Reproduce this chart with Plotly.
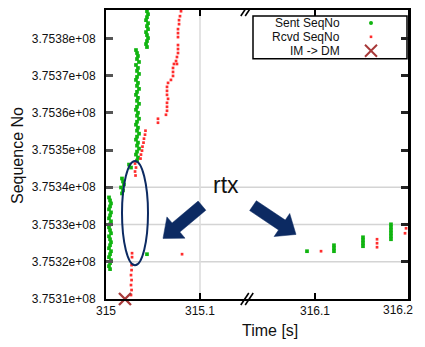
import plotly.graph_objects as go

# ---------------- data ----------------
sent_left_t = [
    # column near start
    315.0032, 315.0043, 315.0053, 315.0043, 315.0032, 315.0053, 315.0043, 315.0032, 315.0053,
    315.0043, 315.0032, 315.0043, 315.0053, 315.0032, 315.0043, 315.0053, 315.0043, 315.0032,
    315.0053, 315.0043, 315.0032, 315.0053, 315.0043, 315.0032, 315.0043,
    # cluster
    315.0170, 315.0181, 315.0191, 315.0160, 315.0181, 315.0170,
    315.0245, 315.0266,
    # main column
    315.0319, 315.0330, 315.0340, 315.0330, 315.0351, 315.0319, 315.0340, 315.0330, 315.0351,
    315.0330, 315.0319, 315.0340, 315.0330, 315.0351, 315.0330, 315.0319, 315.0340, 315.0330,
    315.0351, 315.0330, 315.0319, 315.0340, 315.0330, 315.0351, 315.0330, 315.0319, 315.0340,
    315.0330, 315.0351, 315.0330, 315.0319, 315.0340, 315.0330, 315.0351, 315.0330, 315.0319,
    315.0340, 315.0330,
    # top column
    315.0436, 315.0447, 315.0436, 315.0426, 315.0447, 315.0436, 315.0447, 315.0426, 315.0436,
    315.0447, 315.0436, 315.0426, 315.0436,
    # isolated
    315.0436,
]
sent_left_seq = [
    375337275, 375336473, 375335670, 375334868, 375334066, 375333264, 375332462, 375331659, 375330857,
    375330055, 375329253, 375328451, 375327648, 375326846, 375326044, 375325242, 375324440, 375323637,
    375322835, 375322033, 375321231, 375320429, 375319626, 375318824, 375318022,
    375342355, 375341553, 375340751, 375339949, 375339147, 375338344,
    375346099, 375345297,
    375376850, 375376048, 375375246, 375374443, 375373641, 375372839, 375372037, 375371235, 375370432,
    375369630, 375368828, 375368026, 375367224, 375366421, 375365619, 375364817, 375364015, 375363213,
    375362410, 375361608, 375360806, 375360004, 375359202, 375358399, 375357597, 375356795, 375355993,
    375355191, 375354388, 375353586, 375352784, 375351982, 375351180, 375350377, 375349575, 375348773,
    375347971, 375347169,
    375387279, 375386476, 375385674, 375384872, 375384070, 375383268, 375382465, 375381663, 375380861,
    375380059, 375379257, 375378454, 375377652,
    375322033,
]
sent_right_t = [316.0914,
                316.1204, 316.1204, 316.1204,
                316.1516, 316.1516, 316.1516, 316.1516,
                316.1817, 316.1817, 316.1817, 316.1817, 316.1817, 316.1817]
sent_right_seq = [375322835,
                  375324440, 375323637, 375322835,
                  375326579, 375325777, 375324974, 375324172,
                  375330055, 375329253, 375328451, 375327648, 375326846, 375326044]

rcvd_left_t = [
    315.0277, 315.0277, 315.0272, 315.0272, 315.0266, 315.0272, 315.0266, 315.0272, 315.0266,
    315.0309, 315.0319, 315.0309, 315.0314,
    315.0420, 315.0415, 315.0404, 315.0399, 315.0388, 315.0383, 315.0372, 315.0367,
    315.0553, 315.0553,
    315.0660, 315.0649, 315.0649, 315.0649, 315.0660, 315.0649, 315.0649, 315.0649, 315.0638,
    315.0798, 315.0787, 315.0777, 315.0777, 315.0766, 315.0766, 315.0766, 315.0766, 315.0766,
    315.0766, 315.0755, 315.0745, 315.0723, 315.0755, 315.0713, 315.0713, 315.0713, 315.0691,
    315.0809,
]
rcvd_left_seq = [
    375322300, 375321231, 375319092, 375317755, 375316418, 375315081, 375313744, 375312407, 375311070,
    375346366, 375345297, 375344227, 375343158,
    375355191, 375354121, 375353051, 375351982, 375350912, 375349843, 375348773, 375347703,
    375358399, 375357330,
    375368026, 375366956, 375365887, 375364817, 375363747, 375362678, 375361608, 375360539, 375359469,
    375387279, 375385942, 375384872, 375383802, 375382465, 375381396, 375380326, 375378187, 375377117,
    375376048, 375374978, 375373909, 375373106, 375373106, 375372037, 375370967, 375369898, 375368828,
    375322033,
]
rcvd_right_t = [316.1065,
                316.1667, 316.1667, 316.1667,
                316.1968, 316.1979, 316.1968]
rcvd_right_seq = [375322835,
                  375326044, 375324974, 375323905,
                  375330055, 375328985, 375327648]

im_dm_t = [315.0202]
im_dm_seq = [375310000]

y_tick_vals = [375310000, 375320000, 375330000, 375340000, 375350000, 375360000, 375370000, 375380000]
y_tick_text = ["3.7531e+08", "3.7532e+08", "3.7533e+08", "3.7534e+08",
               "3.7535e+08", "3.7536e+08", "3.7537e+08", "3.7538e+08"]
x_left_ticks = [315, 315.1]
x_left_text = ["315", "315.1"]
x_right_ticks = [316.1, 316.2]
x_right_text = ["316.1", ""]      # last label drawn right-aligned so it stays on the page
x_last_label = "316.2"
grid_seq = [375320000, 375330000, 375340000]
grid_time = [315.1]

legend_labels = ["Sent SeqNo", "Rcvd SeqNo", "IM -> DM"]

# ---------------- styling / geometry helpers ----------------
FONT = "Liberation Sans, Arial, sans-serif"
GREEN = "#10b410"
RED = "#ff2d2d"
XRED = "#a83a3a"
NAVY = "#0c2a62"

# the page body adds an 8px offset; the figure is sized so the page never overflows
OFF = 8
FIG_W, FIG_H = 425 - OFF, 347 - 2 * OFF
# target plot area in window pixels
PL, PR, PT, PB = 106, 408, 8, 299
W, H = PR - PL, PB - PT
BREAK_PX = 247


def pxx(x):
    return (x - PL) / W


def pxy(y):
    return (PB - y) / H


split = pxx(BREAK_PX)

fig = go.Figure()

green_m = dict(symbol="square", size=3.7, color=GREEN, line=dict(width=0))
red_m = dict(symbol="square", size=2.7, color=RED, line=dict(width=0))

fig.add_trace(go.Scatter(x=sent_left_t, y=sent_left_seq, mode="markers", marker=green_m,
                         name="Sent SeqNo", xaxis="x", yaxis="y", showlegend=False))
fig.add_trace(go.Scatter(x=rcvd_left_t, y=rcvd_left_seq, mode="markers", marker=red_m,
                         name="Rcvd SeqNo", xaxis="x", yaxis="y", showlegend=False))
fig.add_trace(go.Scatter(x=sent_right_t, y=sent_right_seq, mode="markers", marker=green_m,
                         name="Sent SeqNo", xaxis="x2", yaxis="y2", showlegend=False))
fig.add_trace(go.Scatter(x=rcvd_right_t, y=rcvd_right_seq, mode="markers", marker=red_m,
                         name="Rcvd SeqNo", xaxis="x2", yaxis="y2", showlegend=False))
fig.add_trace(go.Scatter(x=im_dm_t, y=im_dm_seq, mode="markers", cliponaxis=False,
                         marker=dict(symbol="x-thin", size=12, line=dict(width=2.4, color=XRED)),
                         name="IM -> DM", xaxis="x", yaxis="y", showlegend=False))

# legend symbols on an invisible overlay axis (0..1 over the plot area)
leg_x = pxx(371)
leg_ys = [pxy(21), pxy(35), pxy(49)]
fig.add_trace(go.Scatter(x=[leg_x], y=[leg_ys[0]], mode="markers", xaxis="x3", yaxis="y3",
                         marker=dict(symbol="circle", size=4, color=GREEN), showlegend=False,
                         hoverinfo="skip"))
fig.add_trace(go.Scatter(x=[leg_x], y=[leg_ys[1]], mode="markers", xaxis="x3", yaxis="y3",
                         marker=dict(symbol="square", size=2.6, color=RED), showlegend=False,
                         hoverinfo="skip"))
fig.add_trace(go.Scatter(x=[leg_x], y=[leg_ys[2]], mode="markers", xaxis="x3", yaxis="y3",
                         marker=dict(symbol="x-thin", size=12, line=dict(width=2, color=XRED)),
                         showlegend=False, hoverinfo="skip"))

axis_common = dict(showline=True, linecolor="black", linewidth=2, showgrid=False, zeroline=False,
                   ticks="inside", tickcolor="black", tickwidth=1.5, ticklen=6,
                   tickfont=dict(family=FONT, size=12, color="#111"))

fig.update_layout(
    width=FIG_W, height=FIG_H,
    margin=dict(l=PL - OFF, r=FIG_W - (PR - OFF), t=PT - OFF, b=FIG_H - (PB - OFF), pad=0),
    paper_bgcolor="white", plot_bgcolor="rgba(0,0,0,0)",
    font=dict(family=FONT, size=12, color="#111"),
    showlegend=False,
    xaxis=dict(domain=[0, split], range=[315, 315 + (BREAK_PX - PL) / 940],
               tickvals=x_left_ticks, ticktext=x_left_text, anchor="y", mirror="ticks",
               **axis_common),
    xaxis2=dict(domain=[split, 1], range=[316.1 - (315 - BREAK_PX) / 930, 316.2],
                tickvals=x_right_ticks, ticktext=x_right_text, anchor="y2", mirror="ticks",
                **axis_common),
    yaxis=dict(domain=[0, 1], range=[375310000, 375387600], tickvals=y_tick_vals,
               ticktext=y_tick_text, anchor="x", ticklen=7, tickcolor="#555", tickwidth=2.5,
               showline=True, linecolor="black", linewidth=2, showgrid=False, zeroline=False,
               ticks="inside", ticklabelstandoff=6,
               tickfont=dict(family=FONT, size=12, color="#111")),
    yaxis2=dict(domain=[0, 1], matches="y", anchor="x2", side="right", tickvals=y_tick_vals,
                showticklabels=False, ticks="inside", ticklen=7, tickcolor="#222", tickwidth=2.5,
                showline=True, linecolor="black", linewidth=2.5, showgrid=False, zeroline=False),
    xaxis3=dict(domain=[0, 1], range=[0, 1], visible=False, anchor="y3", fixedrange=True),
    yaxis3=dict(domain=[0, 1], range=[0, 1], visible=False, anchor="x3", fixedrange=True),
)

shapes = []
for g in grid_seq:
    shapes.append(dict(type="line", xref="paper", yref="y", x0=0, x1=1, y0=g, y1=g,
                       line=dict(color="#d4d4d4", width=1.6), layer="below"))
for g in grid_time:
    shapes.append(dict(type="line", xref="x", yref="paper", x0=g, x1=g, y0=0, y1=1,
                       line=dict(color="#dcdcdc", width=1.6), layer="below"))

# legend box
shapes.append(dict(type="rect", xref="paper", yref="paper", x0=pxx(253), x1=pxx(407),
                   y0=pxy(57), y1=pxy(14), line=dict(color="black", width=1.5),
                   fillcolor="white", layer="between"))

# ellipse around retransmissions
shapes.append(dict(type="circle", xref="paper", yref="paper", x0=pxx(122), x1=pxx(148),
                   y0=pxy(265), y1=pxy(160), line=dict(color=NAVY, width=2), layer="above"))


def arrow_path(tail, tip, half_shaft=6.0, half_head=14.0, head_len=17.0):
    tx, ty = tail
    px_, py_ = tip
    dx, dy = px_ - tx, py_ - ty
    ln = (dx * dx + dy * dy) ** 0.5
    ux, uy = dx / ln, dy / ln
    nx, ny = -uy, ux
    hx, hy = px_ - ux * head_len, py_ - uy * head_len
    pts = [(tx + nx * half_shaft, ty + ny * half_shaft),
           (hx + nx * half_shaft, hy + ny * half_shaft),
           (hx + nx * half_head, hy + ny * half_head),
           (px_, py_),
           (hx - nx * half_head, hy - ny * half_head),
           (hx - nx * half_shaft, hy - ny * half_shaft),
           (tx - nx * half_shaft, ty - ny * half_shaft)]
    return "M " + " L ".join(f"{pxx(a):.5f},{pxy(b):.5f}" for a, b in pts) + " Z"


for tail, tip in [((202, 205), (163, 238)), ((253, 205), (296, 234))]:
    shapes.append(dict(type="path", xref="paper", yref="paper", path=arrow_path(tail, tip),
                       fillcolor=NAVY, line=dict(color=NAVY, width=0.5), layer="above"))

# axis break marks
for yb in (PT, PB):
    for off in (-2.2, 2.2):
        shapes.append(dict(type="line", xref="paper", yref="paper",
                           x0=pxx(BREAK_PX + off - 4), y0=pxy(yb + 6),
                           x1=pxx(BREAK_PX + off + 4), y1=pxy(yb - 6),
                           line=dict(color="black", width=1.6), layer="above"))
fig.update_layout(shapes=shapes)

annotations = [
    dict(text="rtx", xref="paper", yref="paper", x=pxx(226), y=pxy(184), showarrow=False,
         font=dict(family=FONT, size=23, color="#111"), xanchor="center", yanchor="middle"),
    dict(text="Sequence No", xref="paper", yref="paper", x=pxx(17.5), y=pxy(154.5),
         showarrow=False, textangle=-90, font=dict(family=FONT, size=16, color="#111"),
         xanchor="center", yanchor="middle"),
    dict(text="Time [s]", xref="paper", yref="paper", x=pxx(270), y=pxy(331), showarrow=False,
         font=dict(family=FONT, size=16, color="#111"), xanchor="center", yanchor="middle"),
    dict(text=x_last_label, xref="paper", yref="paper", x=pxx(415), y=pxy(310),
         showarrow=False, xanchor="right", yanchor="middle",
         font=dict(family=FONT, size=12, color="#111")),
]
for lab, ly in zip(legend_labels, leg_ys):
    annotations.append(dict(text=lab, xref="paper", yref="paper", x=pxx(342), y=ly,
                            showarrow=False, xanchor="right", yanchor="middle",
                            font=dict(family=FONT, size=12, color="#111")))
fig.update_layout(annotations=annotations)

fig.write_html("out.html")
